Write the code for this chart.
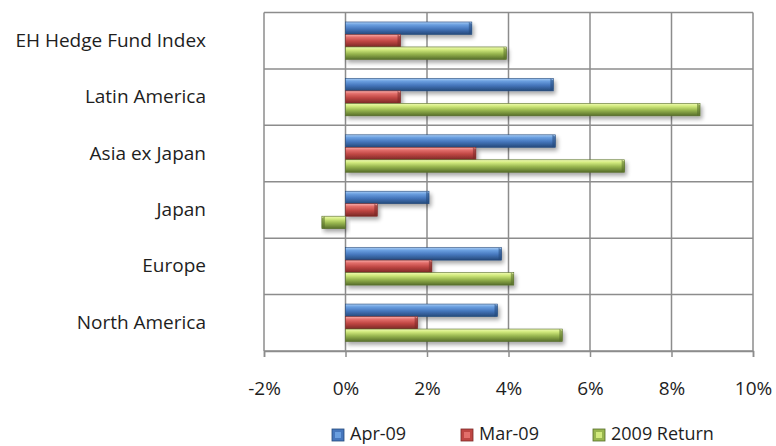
<!DOCTYPE html>
<html>
<head>
<meta charset="utf-8">
<script src="https://cdn.jsdelivr.net/npm/d3@7"></script>
<style>
  body { margin: 0; background: #ffffff; }
</style>
</head>
<body>
<div id="chart"></div>
<script>
// Data
const categories = ["EH Hedge Fund Index", "Latin America", "Asia ex Japan", "Japan", "Europe", "North America"];
const seriesNames = ["Apr-09", "Mar-09", "2009 Return"];
const apr09 = [3.1, 5.1, 5.15, 2.05, 3.83, 3.73];
const mar09 = [1.35, 1.35, 3.2, 0.78, 2.12, 1.77];
const ret2009 = [3.95, 8.7, 6.85, -0.58, 4.13, 5.32];
const xTicks = [-2, 0, 2, 4, 6, 8, 10];

// Define colors (top highlight, light, mid, dark)
var gradStops = {
  "Apr-09": ["#a9cdf5", "#6a9fe0", "#4677bd", "#24497a"],
  "Mar-09": ["#f9b0ae", "#e36f6b", "#bf4643", "#7a2826"],
  "2009 Return": ["#f0fbb4", "#d2ea7e", "#98b64f", "#566d2a"]
};
var gridColor = "#8c8c8c";
var textColor = "#1e1e1e";

// Define dimensions
const width = 776;
const height = 446;
const plotLeft = 264;
const plotRight = 753;
const plotTop = 12.5;
const plotBottom = 351;
const fontFamily = "'Open Sans', sans-serif";
const fontSize = "19px";

let svg = d3
  .select("#chart")
  .append("svg")
  .attr("width", width)
  .attr("height", height);

let defs = svg.append("defs");

// gradients for the bevelled bars
seriesNames.forEach((name, i) => {
  let stops = gradStops[name];
  let g = defs
    .append("linearGradient")
    .attr("id", "grad" + i)
    .attr("x1", 0)
    .attr("y1", 0)
    .attr("x2", 0)
    .attr("y2", 1);
  [[0, stops[0]], [0.22, stops[1]], [0.55, stops[2]], [1, stops[3]]].forEach(s => {
    g.append("stop").attr("offset", s[0]).attr("stop-color", s[1]);
  });
});

let shadow = defs
  .append("filter")
  .attr("id", "shadow")
  .attr("x", "-10%")
  .attr("y", "-40%")
  .attr("width", "130%")
  .attr("height", "220%");
shadow.append("feGaussianBlur").attr("in", "SourceAlpha").attr("stdDeviation", 2);
shadow.append("feOffset").attr("dx", 2).attr("dy", 3).attr("result", "off");
shadow
  .append("feComponentTransfer")
  .append("feFuncA")
  .attr("type", "linear")
  .attr("slope", 0.35);
let merge = shadow.append("feMerge");
merge.append("feMergeNode");
merge.append("feMergeNode").attr("in", "SourceGraphic");

// Scales
let x = d3
  .scaleLinear()
  .domain([-2, 10])
  .range([plotLeft, plotRight]);

let y = d3
  .scaleBand()
  .domain(categories)
  .range([plotTop, plotBottom]);

let inner = d3
  .scaleBand()
  .domain(seriesNames)
  .range([y.bandwidth() * 0.168, y.bandwidth() * 0.832]);

// Grid: vertical lines
svg
  .append("g")
  .selectAll("line")
  .data(xTicks)
  .enter()
  .append("line")
  .attr("x1", d => x(d))
  .attr("x2", d => x(d))
  .attr("y1", plotTop)
  .attr("y2", plotBottom)
  .attr("stroke", gridColor)
  .attr("stroke-width", 1.5);

// Grid: horizontal lines between categories
let hLines = categories.map(c => y(c)).concat([plotBottom]);
svg
  .append("g")
  .selectAll("line")
  .data(hLines)
  .enter()
  .append("line")
  .attr("x1", plotLeft)
  .attr("x2", plotRight)
  .attr("y1", d => d)
  .attr("y2", d => d)
  .attr("stroke", gridColor)
  .attr("stroke-width", 1.5);

// Bottom axis
let xAxis = d3
  .axisBottom(x)
  .tickValues(xTicks)
  .tickSize(6)
  .tickPadding(25)
  .tickFormat(d => d + "%");

let axisG = svg
  .append("g")
  .attr("transform", `translate(0,${plotBottom})`)
  .call(xAxis);
axisG.select(".domain").attr("stroke", gridColor).attr("stroke-width", 1.5);
axisG.selectAll(".tick line").attr("stroke", gridColor).attr("stroke-width", 1.5);
axisG
  .selectAll(".tick text")
  .attr("fill", textColor)
  .attr("font-family", fontFamily)
  .attr("font-size", fontSize);

// Category labels
svg
  .append("g")
  .selectAll("text")
  .data(categories)
  .enter()
  .append("text")
  .text(d => d)
  .attr("x", 206)
  .attr("y", d => y(d) + y.bandwidth() / 2 + 1)
  .attr("text-anchor", "end")
  .attr("dominant-baseline", "middle")
  .attr("fill", textColor)
  .attr("font-family", fontFamily)
  .attr("font-size", fontSize);

// Bars
let seriesValues = [apr09, mar09, ret2009];
let barData = [];
categories.forEach((c, ci) => {
  seriesNames.forEach((s, si) => {
    barData.push({ cat: c, series: s, si: si, value: seriesValues[si][ci] });
  });
});

let bars = svg
  .append("g")
  .selectAll("g")
  .data(barData)
  .enter()
  .append("g")
  .attr("filter", "url(#shadow)");

bars
  .append("rect")
  .attr("x", d => Math.min(x(0), x(d.value)))
  .attr("y", d => y(d.cat) + inner(d.series))
  .attr("width", d => Math.abs(x(d.value) - x(0)))
  .attr("height", inner.bandwidth())
  .attr("fill", d => `url(#grad${d.si})`)
  .attr("stroke", d => gradStops[d.series][3])
  .attr("stroke-width", 0.6);

// bevelled end cap
bars
  .append("path")
  .attr("d", d => {
    let x1 = x(d.value);
    let y0 = y(d.cat) + inner(d.series);
    let h = inner.bandwidth();
    let dir = d.value >= 0 ? -1 : 1;
    return `M${x1},${y0 + 2} L${x1 + dir * 3},${y0} L${x1 + dir * 3},${y0 + h} L${x1},${y0 + h - 2} Z`;
  })
  .attr("fill", d => gradStops[d.series][3])
  .attr("opacity", 0.55);

// Legend
let legendItems = [
  { name: "Apr-09", si: 0, x: 332 },
  { name: "Mar-09", si: 1, x: 461 },
  { name: "2009 Return", si: 2, x: 593 }
];

let legend = svg
  .append("g")
  .selectAll("g")
  .data(legendItems)
  .enter()
  .append("g")
  .attr("transform", d => `translate(${d.x},429)`);

legend
  .append("rect")
  .attr("width", 12)
  .attr("height", 12)
  .attr("fill", d => gradStops[d.name][2])
  .attr("stroke", d => gradStops[d.name][3])
  .attr("stroke-width", 0.8);

legend
  .append("rect")
  .attr("x", 3)
  .attr("y", 3)
  .attr("width", 6)
  .attr("height", 6)
  .attr("fill", d => gradStops[d.name][1]);

legend
  .append("text")
  .text(d => d.name)
  .attr("x", 18)
  .attr("y", 6)
  .attr("dominant-baseline", "middle")
  .attr("fill", textColor)
  .attr("font-family", fontFamily)
  .attr("font-size", "18px");
</script>
</body>
</html>
